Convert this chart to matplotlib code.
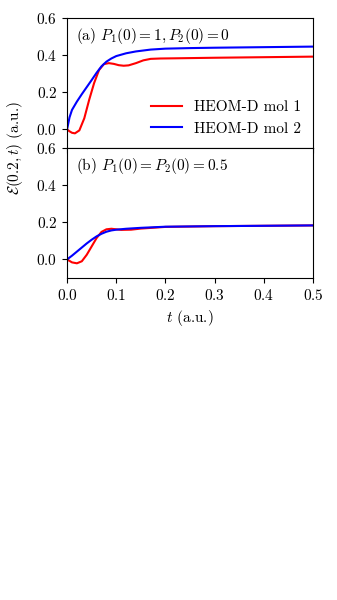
import matplotlib
matplotlib.use("Agg")
import matplotlib.pyplot as plt

plt.rcParams["font.family"] = "cmr10"
plt.rcParams["mathtext.fontset"] = "cm"
plt.rcParams["axes.unicode_minus"] = False
plt.rcParams["axes.formatter.use_mathtext"] = True
plt.rcParams["font.size"] = 11

# panel (a): P1(0)=1, P2(0)=0
t_a_mol1 = [0, 0.005, 0.01, 0.016, 0.025, 0.035, 0.045, 0.055, 0.065, 0.075, 0.085,
            0.095, 0.105, 0.115, 0.125, 0.14, 0.155, 0.17, 0.19, 0.22, 0.3, 0.4, 0.5]
e_a_mol1 = [0, -0.01, -0.018, -0.021, -0.005, 0.06, 0.16, 0.25, 0.32, 0.352, 0.357,
            0.353, 0.346, 0.343, 0.345, 0.357, 0.372, 0.38, 0.382, 0.383, 0.386, 0.389, 0.392]
t_a_mol2 = [0, 0.005, 0.01, 0.02, 0.03, 0.04, 0.05, 0.06, 0.07, 0.08, 0.09, 0.1,
            0.12, 0.14, 0.17, 0.2, 0.25, 0.3, 0.4, 0.5]
e_a_mol2 = [0, 0.065, 0.105, 0.15, 0.19, 0.228, 0.266, 0.305, 0.34, 0.365, 0.382, 0.395,
            0.41, 0.42, 0.43, 0.435, 0.438, 0.44, 0.443, 0.446]

# panel (b): P1(0)=P2(0)=0.5
t_b_mol1 = [0, 0.005, 0.01, 0.02, 0.03, 0.04, 0.05, 0.06, 0.07, 0.08, 0.09, 0.1,
            0.11, 0.13, 0.15, 0.2, 0.3, 0.4, 0.5]
e_b_mol1 = [0, -0.008, -0.016, -0.021, -0.01, 0.025, 0.07, 0.115, 0.148, 0.162, 0.165,
            0.162, 0.159, 0.160, 0.166, 0.175, 0.179, 0.181, 0.183]
t_b_mol2 = [0, 0.01, 0.02, 0.03, 0.04, 0.05, 0.06, 0.07, 0.08, 0.09, 0.1, 0.12,
            0.15, 0.2, 0.3, 0.4, 0.5]
e_b_mol2 = [0, 0.02, 0.042, 0.064, 0.086, 0.106, 0.124, 0.138, 0.149, 0.156, 0.160,
            0.165, 0.170, 0.176, 0.179, 0.181, 0.183]

labels = ["HEOM-D mol 1", "HEOM-D mol 2"]
yticks = [0.0, 0.2, 0.4, 0.6]

fig = plt.figure(figsize=(3.37, 6.0), dpi=100)
left, width = 0.199, 0.730
ax1 = fig.add_axes([left, 0.7533, width, 0.2167])
ax2 = fig.add_axes([left, 0.5367, width, 0.2167], sharex=ax1)

ax1.plot(t_a_mol1, e_a_mol1, color="red", lw=1.5, label=labels[0])
ax1.plot(t_a_mol2, e_a_mol2, color="blue", lw=1.5, label=labels[1])
ax2.plot(t_b_mol1, e_b_mol1, color="red", lw=1.5)
ax2.plot(t_b_mol2, e_b_mol2, color="blue", lw=1.5)

for ax in (ax1, ax2):
    ax.set_xlim(0, 0.5)
    ax.set_ylim(-0.1, 0.6)
    ax.set_yticks(yticks)
ax2.set_xticks([0.0, 0.1, 0.2, 0.3, 0.4, 0.5])
ax1.tick_params(labelbottom=False)

ax1.text(0.035, 0.94, r"(a) $P_1(0) = 1, P_2(0) = 0$", transform=ax1.transAxes,
         va="top", ha="left")
ax2.text(0.035, 0.94, r"(b) $P_1(0) = P_2(0) = 0.5$", transform=ax2.transAxes,
         va="top", ha="left")

ax1.legend(loc="lower right", frameon=False, handlelength=2.0, borderaxespad=0.4)
ax2.set_xlabel(r"$t$ (a.u.)")
fig.text(0.045, 0.7533, r"$\mathcal{E}(0.2, t)$ (a.u.)", rotation=90,
         va="center", ha="center")

fig.savefig("out.png", dpi=100)
